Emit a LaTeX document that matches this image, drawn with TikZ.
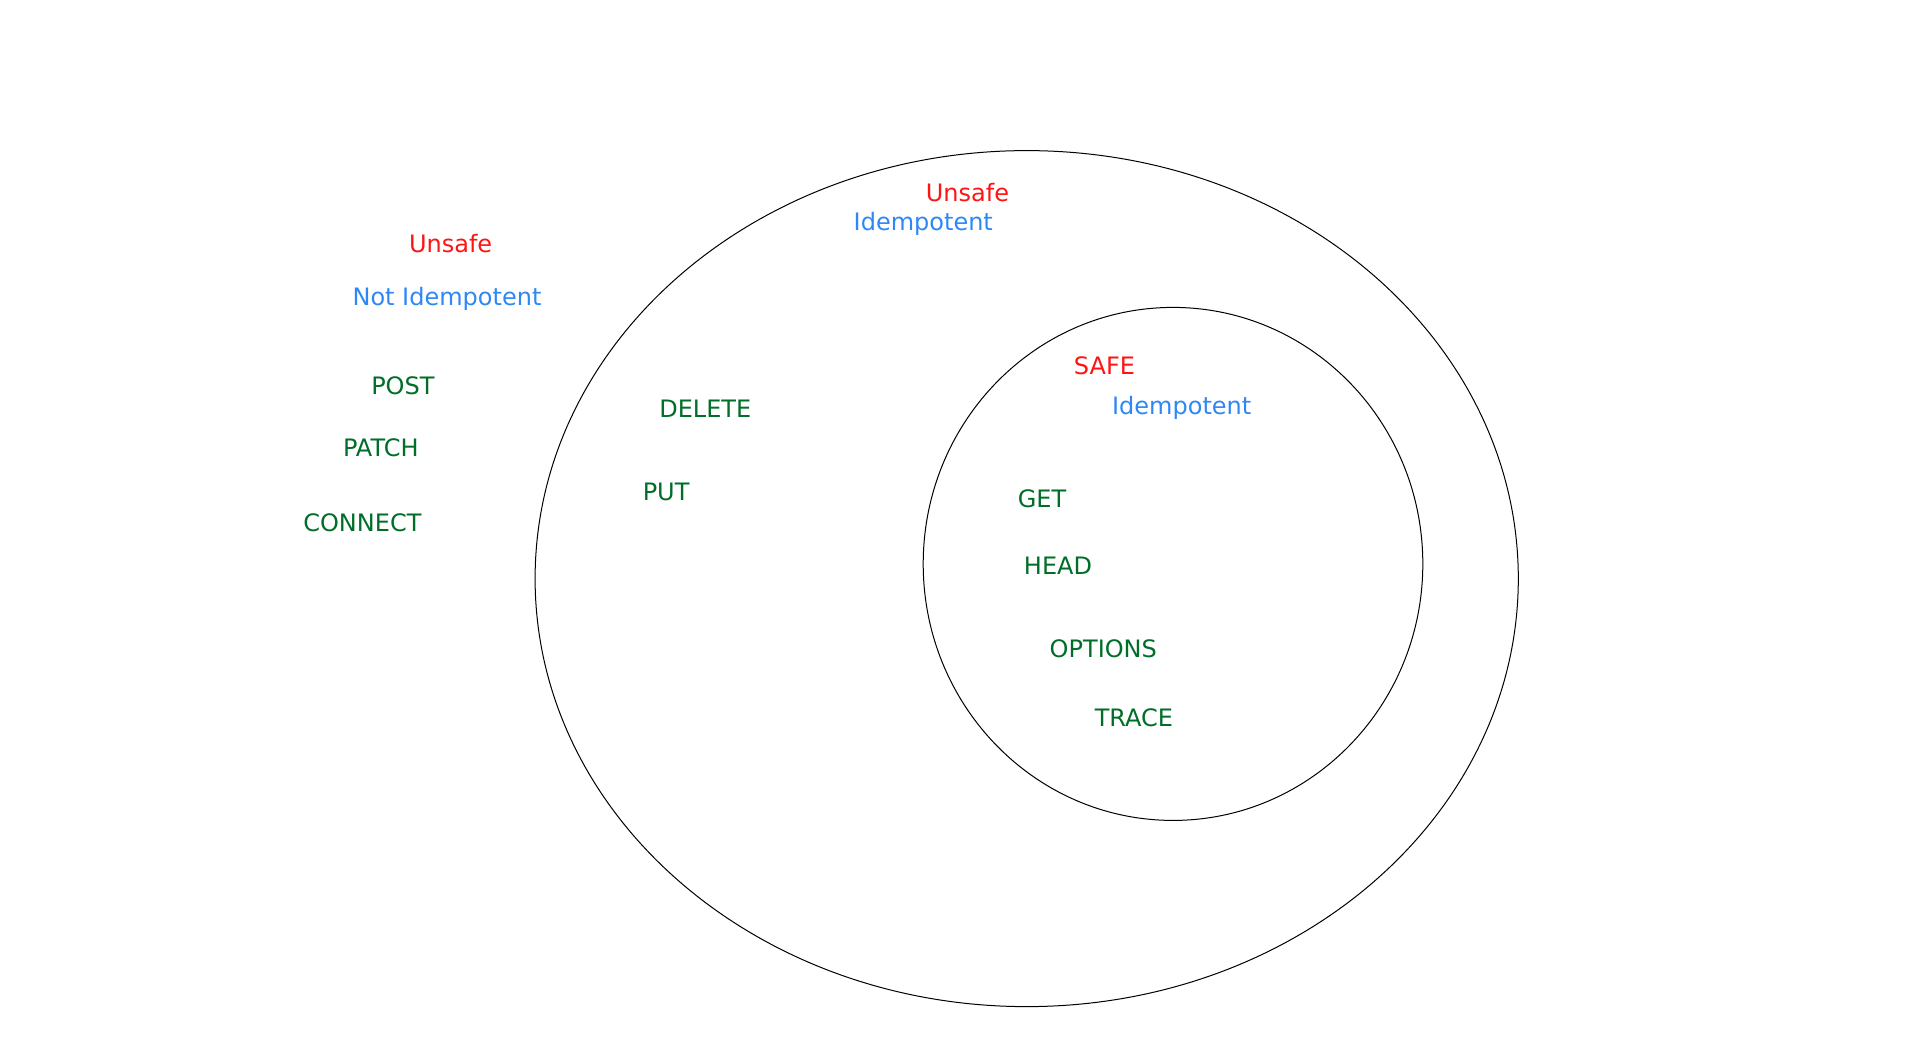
\documentclass[tikz,border=0pt]{standalone}
\usepackage{fontspec}
\setmainfont{DejaVu Sans}
\definecolor{unsafered}{RGB}{255,20,20}
\definecolor{idemblue}{RGB}{45,135,245}
\definecolor{methgreen}{RGB}{0,110,40}
\begin{document}
\begin{tikzpicture}[x=0.5pt,y=-0.5pt,
    safety/.style={text=unsafered,font=\fontsize{12}{14}\selectfont},
    idem/.style={text=idemblue,font=\fontsize{12}{14}\selectfont},
    method/.style={text=methgreen,font=\fontsize{12}{14}\selectfont}]
    \useasboundingbox (0,0) rectangle (1920,1057);
    \draw[line width=0.5pt] (1026.7,578.6) ellipse [x radius=491.6, y radius=428];
    \draw[line width=0.5pt] (1173,563.9) ellipse [x radius=249.8, y radius=256.5];
    % outside the ellipse
    \node[safety] (unsafeout) at (450.6,243.7) {Unsafe};
    \node[idem] (notidem) at (447,298.8) {Not Idempotent};
    \node[method] (post) at (402.9,385.7) {POST};
    \node[method] (patch) at (380.8,448.2) {PATCH};
    \node[method] (connect) at (362.4,522.9) {CONNECT};
    % outer ellipse
    \node[safety] (unsafein) at (967.4,192.2) {Unsafe};
    \node[idem] (idemout) at (923.3,224.1) {Idempotent};
    \node[method] (delete) at (705.3,409) {DELETE};
    \node[method] (put) at (666.1,492.3) {PUT};
    % inner circle
    \node[safety] (safe) at (1104.5,366.1) {SAFE};
    \node[idem] (idemin) at (1181.7,407.8) {Idempotent};
    \node[method] (get) at (1042,498.4) {GET};
    \node[method] (head) at (1058,565.7) {HEAD};
    \node[method] (options) at (1103.3,649) {OPTIONS};
    \node[method] (trace) at (1133.9,717.6) {TRACE};
\end{tikzpicture}
\end{document}
